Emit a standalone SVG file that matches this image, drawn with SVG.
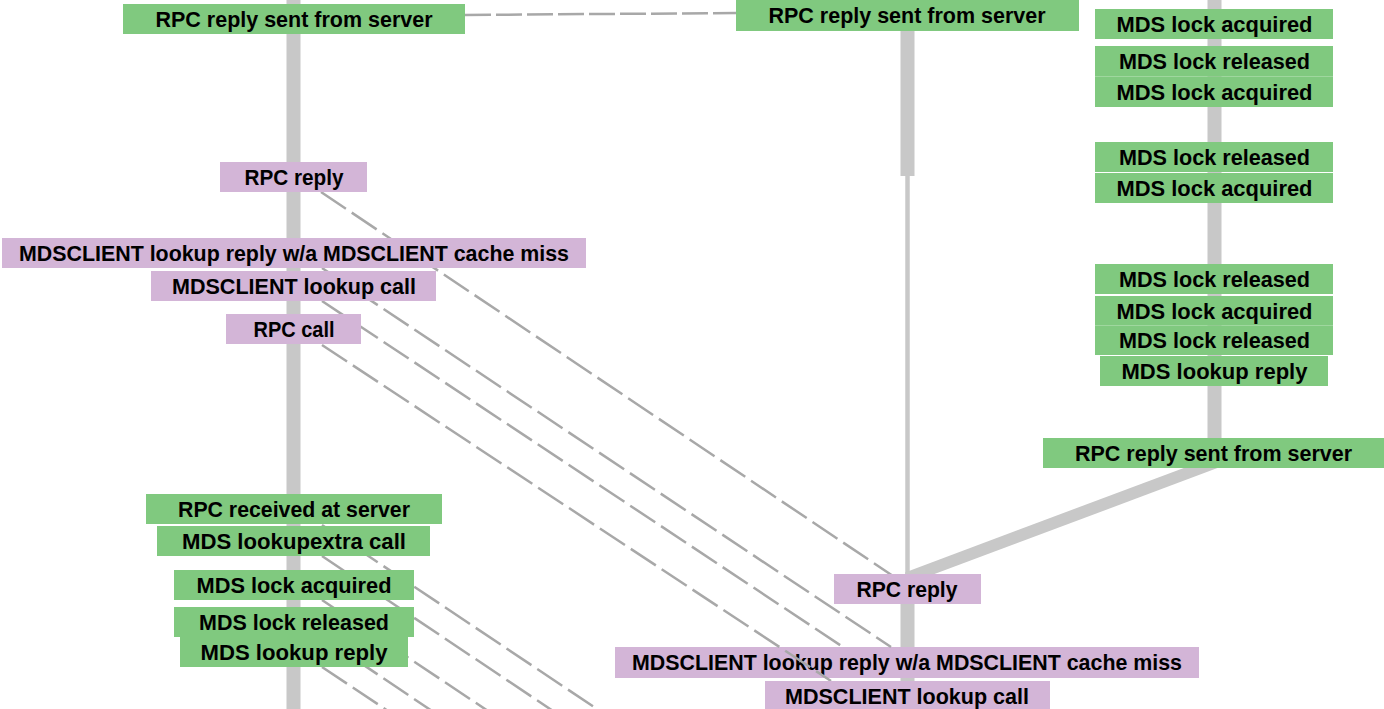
<svg xmlns="http://www.w3.org/2000/svg" width="1384" height="709" viewBox="0 0 1384 709">
<style>
.g{fill:#80c97f}
.p{fill:#d3b5d7}
.t{font-family:"Liberation Sans",Arial,sans-serif;font-weight:bold;font-size:22.5px;fill:#000;text-anchor:middle}
.lane{stroke:#c8c8c8;fill:none}
.d{stroke:#a8a8a8;stroke-width:2.5;fill:none;stroke-dasharray:30 7}
.dt{stroke:#a8a8a8;stroke-width:2.5;fill:none;stroke-dasharray:26 5}
</style>
<rect width="1384" height="709" fill="#ffffff"/>
<g id="lanes">
<line class="lane" x1="293.5" y1="0" x2="293.5" y2="709" stroke-width="14"/>
<line class="lane" x1="907.5" y1="28" x2="907.5" y2="176" stroke-width="14"/>
<line class="lane" x1="907.5" y1="176" x2="907.5" y2="578" stroke-width="4.5"/>
<line class="lane" x1="907.5" y1="576" x2="907.5" y2="709" stroke-width="14"/>
<line class="lane" x1="1214.5" y1="0" x2="1214.5" y2="442" stroke-width="14"/>
<line class="lane" x1="1222" y1="460" x2="907" y2="578" stroke-width="12"/>
</g>
<g id="m3"><rect class="p" x="615" y="647" width="584" height="31"/><text class="t" x="907" y="670" textLength="550" lengthAdjust="spacingAndGlyphs">MDSCLIENT lookup reply w/a MDSCLIENT cache miss</text></g>
<g id="connectors">
<path class="dt" d="M465,15 L736,13"/>
<path class="d" d="M321,192 L893,576"/>
<path class="d" d="M322,268 L891,647"/>
<path class="d" d="M322,301 L843,647"/>
<path class="d" d="M322,345 L831,681"/>
<path class="d" d="M322,525 L606,715"/>
<path class="d" d="M322,556 L559,715"/>
<path class="d" d="M322,600 L494,715"/>
<path class="d" d="M322,637 L438,715"/>
<path class="d" d="M322,667 L394,715"/>
</g>
<g id="l1"><rect class="g" x="123" y="4" width="342" height="30"/><text class="t" x="294" y="27" textLength="277" lengthAdjust="spacingAndGlyphs">RPC reply sent from server</text></g>
<g id="l2"><rect class="p" x="220" y="162" width="147" height="30"/><text class="t" x="294" y="185" textLength="99" lengthAdjust="spacingAndGlyphs">RPC reply</text></g>
<g id="l3"><rect class="p" x="2" y="238" width="584" height="30"/><text class="t" x="294" y="261" textLength="550" lengthAdjust="spacingAndGlyphs">MDSCLIENT lookup reply w/a MDSCLIENT cache miss</text></g>
<g id="l4"><rect class="p" x="151" y="271" width="285" height="30"/><text class="t" x="294" y="294" textLength="244" lengthAdjust="spacingAndGlyphs">MDSCLIENT lookup call</text></g>
<g id="l5"><rect class="p" x="226" y="314" width="135" height="30"/><text class="t" x="294" y="337" textLength="81" lengthAdjust="spacingAndGlyphs">RPC call</text></g>
<g id="l6"><rect class="g" x="146" y="494" width="296" height="30"/><text class="t" x="294" y="517" textLength="232" lengthAdjust="spacingAndGlyphs">RPC received at server</text></g>
<g id="l7"><rect class="g" x="157" y="526" width="273" height="30"/><text class="t" x="294" y="549" textLength="224" lengthAdjust="spacingAndGlyphs">MDS lookupextra call</text></g>
<g id="l8"><rect class="g" x="174" y="570" width="240" height="30"/><text class="t" x="294" y="593" textLength="195" lengthAdjust="spacingAndGlyphs">MDS lock acquired</text></g>
<g id="l9"><rect class="g" x="174" y="607" width="240" height="30"/><text class="t" x="294" y="630" textLength="190" lengthAdjust="spacingAndGlyphs">MDS lock released</text></g>
<g id="l10"><rect class="g" x="180" y="637" width="228" height="30"/><text class="t" x="294" y="660" textLength="187" lengthAdjust="spacingAndGlyphs">MDS lookup reply</text></g>
<g id="m1"><rect class="g" x="736" y="0" width="343" height="31"/><text class="t" x="907" y="23" textLength="277" lengthAdjust="spacingAndGlyphs">RPC reply sent from server</text></g>
<g id="m2"><rect class="p" x="834" y="574" width="147" height="30"/><text class="t" x="907" y="597" textLength="101" lengthAdjust="spacingAndGlyphs">RPC reply</text></g>
<g id="m4"><rect class="p" x="765" y="681" width="285" height="30"/><text class="t" x="907" y="704" textLength="244" lengthAdjust="spacingAndGlyphs">MDSCLIENT lookup call</text></g>
<g id="r1"><rect class="g" x="1095" y="9" width="238" height="30"/><text class="t" x="1214.5" y="32" textLength="196" lengthAdjust="spacingAndGlyphs">MDS lock acquired</text></g>
<g id="r2"><rect class="g" x="1095" y="46" width="238" height="30.5"/><text class="t" x="1214.5" y="69" textLength="191" lengthAdjust="spacingAndGlyphs">MDS lock released</text></g>
<g id="r3"><rect class="g" x="1095" y="76.5" width="238" height="30.5"/><text class="t" x="1214.5" y="99.5" textLength="196" lengthAdjust="spacingAndGlyphs">MDS lock acquired</text></g>
<g id="r4"><rect class="g" x="1095" y="142" width="238" height="30"/><text class="t" x="1214.5" y="165" textLength="191" lengthAdjust="spacingAndGlyphs">MDS lock released</text></g>
<g id="r5"><rect class="g" x="1095" y="173" width="238" height="30"/><text class="t" x="1214.5" y="196" textLength="196" lengthAdjust="spacingAndGlyphs">MDS lock acquired</text></g>
<g id="r6"><rect class="g" x="1095" y="264" width="238" height="30"/><text class="t" x="1214.5" y="287" textLength="191" lengthAdjust="spacingAndGlyphs">MDS lock released</text></g>
<g id="r7"><rect class="g" x="1095" y="296" width="238" height="29.5"/><text class="t" x="1214.5" y="319" textLength="196" lengthAdjust="spacingAndGlyphs">MDS lock acquired</text></g>
<g id="r8"><rect class="g" x="1095" y="325.5" width="238" height="29.5"/><text class="t" x="1214.5" y="348" textLength="191" lengthAdjust="spacingAndGlyphs">MDS lock released</text></g>
<g id="r9"><rect class="g" x="1100" y="356" width="228" height="30"/><text class="t" x="1214.5" y="379" textLength="186" lengthAdjust="spacingAndGlyphs">MDS lookup reply</text></g>
<g id="r10"><rect class="g" x="1043" y="438" width="341" height="30"/><text class="t" x="1213.5" y="461" textLength="277" lengthAdjust="spacingAndGlyphs">RPC reply sent from server</text></g>
</svg>
